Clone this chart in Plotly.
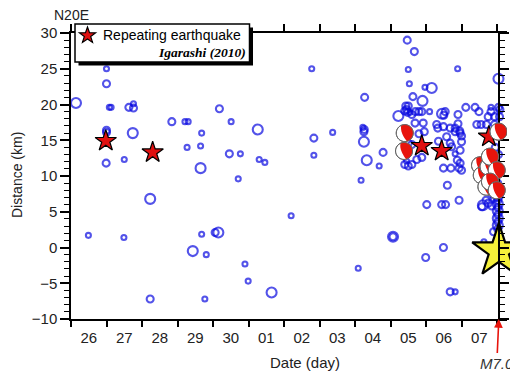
import math
import plotly.graph_objects as go

# ---------------- data ----------------
day_labels = ["26", "27", "28", "29", "30", "01", "02", "03", "04", "05", "06", "07"]

# earthquakes: day offset (0 = start of day 26), distance along N20E (km), size class
eq_day = [
    0.14, 1.00, 1.00, 1.08, 1.13, 1.63, 1.76, 1.76, 1.00, 1.00, 1.74, 0.99, 1.50, 2.84, 3.21, 3.30,
    3.68, 3.27, 3.65, 3.65, 2.23, 0.49, 1.49, 3.68, 4.06, 4.15, 3.43, 3.81, 2.23, 3.77,
    4.18, 4.51, 5.26, 4.46, 4.77, 5.30, 5.46, 4.71, 4.90, 4.99, 5.65, 6.78, 6.84, 7.37,
    6.84, 6.20, 8.09, 8.27, 8.26, 8.25, 8.22, 8.25, 8.33, 8.68, 8.79, 8.17,
    9.47, 9.67, 9.50, 10.89, 12.04, 9.53, 9.97, 10.16, 9.63, 9.90,
    9.43, 9.50, 9.45, 9.48, 9.40, 9.22, 9.60, 9.55, 9.70, 9.80, 9.88, 10.10,
    10.45, 10.50, 10.54, 10.90, 11.12, 11.38, 11.49, 11.83, 11.83, 12.04, 12.08,
    11.75, 11.93, 12.07, 11.43, 11.55, 11.70, 11.93, 9.69, 9.92,
    10.30, 10.49, 10.33, 10.68, 10.82, 10.95, 11.00, 11.00, 10.90, 9.95, 9.80,
    10.35, 10.68, 10.82, 10.49, 10.70, 10.93, 11.00, 9.40, 9.50, 9.60, 9.45,
    9.88, 9.74, 9.50, 9.60, 9.35, 10.58, 10.96, 10.82, 10.72, 10.96, 10.88, 10.96,
    10.60, 10.02, 10.44, 10.55, 10.93, 9.07, 9.07, 10.49, 9.99, 10.68, 10.82,
    11.60, 11.75, 11.85, 11.69, 11.57,
    12.02, 12.02, 12.02, 12.02, 12.02, 12.02, 12.02, 12.02, 12.02, 12.02, 12.02, 12.02, 12.02,
    11.90, 11.95, 12.04, 11.63, 11.85, 11.92, 12.03, 11.95,
]
eq_dist = [
    20.2, 25.0, 22.9, 19.6, 19.6, 19.6, 20.1, 19.5, 16.1, 16.4, 16.0, 11.8, 12.3, 17.6, 17.6, 17.6,
    16.0, 14.0, 14.2, 11.1, 6.8, 1.7, 1.4, 1.85, 2.1, 2.1, -0.5, -1.0, -7.2, -7.2,
    19.4, 17.6, 16.5, 13.1, 13.1, 12.3, 11.9, 9.6, -2.3, -4.7, -6.3, 25.0, 15.3, 16.1,
    12.9, 4.45, -2.9, 21.0, 16.5, 16.2, 16.8, 14.8, 12.2, 11.4, 13.3, 9.4,
    29.0, 27.4, 24.9, 25.0, 23.6, 22.9, 22.4, 22.3, 21.1, 20.5,
    19.8, 19.8, 19.3, 18.9, 19.1, 18.4, 18.6, 18.9, 19.0, 19.0, 19.0, 19.0,
    18.7, 18.5, 19.0, 18.6, 19.6, 19.6, 19.0, 19.6, 19.0, 19.6, 19.3,
    18.3, 18.3, 18.3, 17.2, 17.2, 17.2, 17.2, 17.4, 17.4,
    17.2, 16.9, 16.7, 16.7, 16.7, 16.3, 15.6, 14.8, 17.3, 16.2, 15.9,
    14.85, 14.6, 13.1, 11.1, 11.1, 11.1, 10.8, 11.6, 11.4, 11.6, 12.1,
    12.6, 12.3, 14.6, 14.4, 13.0, 15.5, 16.0, 16.2, 14.1, 13.6, 12.2, 11.8,
    8.7, 6.0, 6.0, 6.0, 6.6, 1.5, 1.5, 0.0, -1.4, -6.2, -6.2,
    5.9, 6.2, 5.8, 6.6, 5.7,
    9.0, 8.4, 7.8, 7.2, 6.6, 6.1, 5.6, 5.1, 4.6, 4.1, 3.6, 3.1, 2.6,
    2.2, 14.0, 13.0, 0.8, 7.5, 6.9, 0.8, 9.8,
]
eq_size = [
    3, 1, 2, 1, 1, 2, 1, 2, 2, 2, 3, 2, 1, 2, 1, 1,
    1, 1, 1, 3, 3, 1, 1, 1, 2, 3, 3, 1, 2, 1,
    2, 1, 3, 2, 1, 1, 1, 1, 1, 1, 3, 1, 2, 1,
    1, 1, 1, 2, 2, 2, 1, 3, 3, 1, 2, 1,
    2, 2, 1, 1, 3, 1, 1, 3, 2, 3,
    2, 2, 2, 2, 2, 3, 2, 1, 2, 2, 2, 1,
    3, 2, 2, 2, 2, 2, 2, 1, 2, 2, 2,
    2, 2, 2, 2, 2, 2, 2, 2, 2,
    2, 2, 2, 2, 2, 2, 2, 2, 2, 2, 2,
    2, 2, 1, 2, 2, 2, 2, 2, 2, 2, 1,
    2, 2, 2, 2, 2, 2, 2, 2, 2, 2, 2, 2,
    2, 2, 2, 2, 2, 3, 2, 2, 2, 2, 1,
    3, 2, 2, 2, 2,
    2, 3, 2, 3, 2, 3, 2, 3, 2, 3, 2, 3, 2,
    2, 2, 2, 1, 2, 2, 2, 2,
]

# repeating earthquakes (Igarashi, 2010)
rep_day = [0.98, 2.30, 9.88, 10.44, 11.77]
rep_dist = [14.9, 13.3, 14.2, 13.5, 15.5]

# focal mechanisms
fm_day = [9.40, 9.38, 12.04, 11.52, 11.57, 11.76, 11.80, 11.99, 11.70, 11.80, 11.99]
fm_dist = [16.0, 13.5, 16.2, 11.5, 10.1, 11.3, 12.7, 10.8, 8.5, 9.2, 8.0]

# mainshock
main_day = [12.05]
main_dist = [-0.5]

X_MAX = 12.28
FONT = "Liberation Sans, Arial, sans-serif"
BLUE = "#0a0ae0"
OFF = 8  # page body margin of the html output

size_map = {1: 5, 2: 7, 3: 10}

fig = go.Figure()

fig.add_trace(go.Scatter(
    x=eq_day, y=eq_dist, mode="markers",
    marker=dict(symbol="circle-open", size=[size_map[s] for s in eq_size],
                color=BLUE, line=dict(width=2.1, color=BLUE)),
    hoverinfo="skip", cliponaxis=False))

fig.add_trace(go.Scatter(
    x=rep_day, y=rep_dist, mode="markers",
    marker=dict(symbol="star", size=16, color="#e01010", line=dict(width=1.2, color="black")),
    hoverinfo="skip", cliponaxis=False))

fig.add_trace(go.Scatter(
    x=main_day, y=main_dist, mode="markers",
    marker=dict(symbol="star", size=40, color="#f5f03a", line=dict(width=2.2, color="black")),
    hoverinfo="skip", cliponaxis=False))

# empty traces so the overlay axes exist
fig.add_trace(go.Scatter(x=[None], y=[None], xaxis="x2", yaxis="y", hoverinfo="skip"))
fig.add_trace(go.Scatter(x=[None], y=[None], xaxis="x", yaxis="y2", hoverinfo="skip"))


def poly(pts):
    return "M " + " L ".join(f"{x:.2f},{y:.2f}" for x, y in pts) + " Z"


R = 8.5
circle_pts = [(R * math.cos(2 * math.pi * k / 40), R * math.sin(2 * math.pi * k / 40)) for k in range(40)]
arc = []
a1, a2 = math.radians(115), math.radians(-75)
for k in range(25):
    a = a1 + (a2 - a1) * k / 24
    arc.append((R * math.cos(a), R * math.sin(a)))
inner = []
p0 = arc[-1]
p2 = arc[0]
c = (-0.55 * R, 0.0)
for k in range(1, 16):
    t = k / 16
    x = (1 - t) ** 2 * p0[0] + 2 * (1 - t) * t * c[0] + t ** 2 * p2[0]
    y = (1 - t) ** 2 * p0[1] + 2 * (1 - t) * t * c[1] + t ** 2 * p2[1]
    inner.append((x, y))
lune_pts = arc + inner

shapes = []
for d, s in zip(fm_day, fm_dist):
    common = dict(type="path", xref="x", yref="y", xsizemode="pixel", ysizemode="pixel",
                  xanchor=d, yanchor=s, layer="above")
    shapes.append(dict(path=poly(circle_pts), fillcolor="white", line=dict(color="#777", width=1), **common))
    shapes.append(dict(path=poly(lune_pts), fillcolor="#e8140c", line=dict(width=0), **common))
    shapes.append(dict(path=poly(circle_pts), fillcolor="rgba(0,0,0,0)", line=dict(color="#666", width=1), **common))

# screen-pixel -> paper helpers (plot area spans x 71..507, y 33..319 on screen)
W, H = 436.0, 286.0
def px(xp):
    return (xp - 71) / W
def py(yp):
    return (319 - yp) / H

shapes.append(dict(type="rect", xref="paper", yref="paper", x0=px(78.5), x1=px(253), y0=py(65.5), y1=py(27.5),
                   fillcolor="black", line=dict(width=0), layer="above"))
shapes.append(dict(type="rect", xref="paper", yref="paper", x0=px(75), x1=px(249.5), y0=py(62), y1=py(24),
                   fillcolor="white", line=dict(color="black", width=1.5), layer="above"))
Rs, rs = 8.5, 3.4
star_pts = []
for k in range(10):
    a = math.pi / 2 + k * math.pi / 5
    r = Rs if k % 2 == 0 else rs
    star_pts.append((r * math.cos(a), r * math.sin(a)))
shapes.append(dict(type="path", xref="paper", yref="paper", xsizemode="pixel", ysizemode="pixel",
                   xanchor=px(87.5), yanchor=py(35.5), path=poly(star_pts),
                   fillcolor="#e01010", line=dict(color="black", width=1.2), layer="above"))

annotations = [
    dict(text="Repeating earthquake", xref="paper", yref="paper", x=px(100.5), y=py(35), xanchor="left",
         yanchor="middle", showarrow=False, font=dict(family=FONT, size=14, color="black")),
    dict(text="<b><i>Igarashi (2010)</i></b>", xref="paper", yref="paper", x=px(248), y=py(52),
         xanchor="right", yanchor="middle", showarrow=False,
         font=dict(family="Liberation Serif, Times New Roman, serif", size=13.5, color="black")),
    dict(text="N20E", xref="paper", yref="paper", x=px(71.5), y=py(15.5), xanchor="center", yanchor="middle",
         showarrow=False, font=dict(family=FONT, size=14, color="#222")),
    dict(text="Distance (km)", xref="paper", yref="paper", x=px(17), y=py(175), xanchor="center",
         yanchor="middle", textangle=-90, showarrow=False, font=dict(family=FONT, size=14, color="#222")),
    dict(text="Date (day)", xref="paper", yref="paper", x=px(305), y=py(362), xanchor="center",
         yanchor="middle", showarrow=False, font=dict(family=FONT, size=15, color="#222")),
    dict(text="<i>M7.0</i>", x=main_day[0], y=-10, xref="x", yref="y", ax=-2, ay=44, showarrow=True,
         arrowhead=2, arrowsize=1.1, arrowwidth=1.6, arrowcolor="#e8140c", standoff=0,
         font=dict(family=FONT, size=15, color="#333")),
]

boundaries = list(range(0, 13))
centers = [i + 0.5 for i in range(12)]

fig.update_layout(
    width=518 - OFF, height=373 - OFF,
    margin=dict(l=71 - OFF, r=11, t=33 - OFF, b=54),
    plot_bgcolor="white", paper_bgcolor="white",
    showlegend=False,
    shapes=shapes, annotations=annotations,
    xaxis=dict(range=[0, X_MAX], tickmode="array", tickvals=centers, ticktext=day_labels, ticks="",
               showline=True, linecolor="black", linewidth=1.5, showgrid=False, zeroline=False,
               tickfont=dict(family=FONT, size=15, color="#222"), ticklabelstandoff=4,
               minor=dict(tickmode="array", tickvals=boundaries, ticks="outside", ticklen=6,
                          tickwidth=1.5, tickcolor="black", showgrid=False),
               anchor="y", fixedrange=True),
    xaxis2=dict(range=[0, X_MAX], overlaying="x", side="top", anchor="y", tickmode="array",
                tickvals=boundaries, ticks="outside", ticklen=7, tickwidth=1.5, tickcolor="black",
                showticklabels=False, showline=True, linecolor="black", linewidth=1.5,
                showgrid=False, zeroline=False),
    yaxis=dict(range=[-10, 30], tickmode="array", tickvals=list(range(-10, 31, 5)),
               ticks="outside", ticklen=9, tickwidth=1.5, tickcolor="black",
               showline=True, linecolor="black", linewidth=1.5, showgrid=False, zeroline=False,
               tickfont=dict(family=FONT, size=15, color="#222"),
               minor=dict(dtick=1, ticks="outside", ticklen=5, tickwidth=1.2, tickcolor="black", showgrid=False),
               anchor="x"),
    yaxis2=dict(range=[-10, 30], overlaying="y", anchor="free", position=main_day[0] / X_MAX, side="right",
                tickmode="array", tickvals=list(range(-10, 31, 5)), ticks="outside", ticklen=9,
                tickwidth=1.5, tickcolor="black", showticklabels=False, showline=True, linecolor="black",
                linewidth=1.5, showgrid=False, zeroline=False,
                minor=dict(dtick=1, ticks="outside", ticklen=5, tickwidth=1.2, tickcolor="black", showgrid=False)),
)

fig.write_html("out.html")
